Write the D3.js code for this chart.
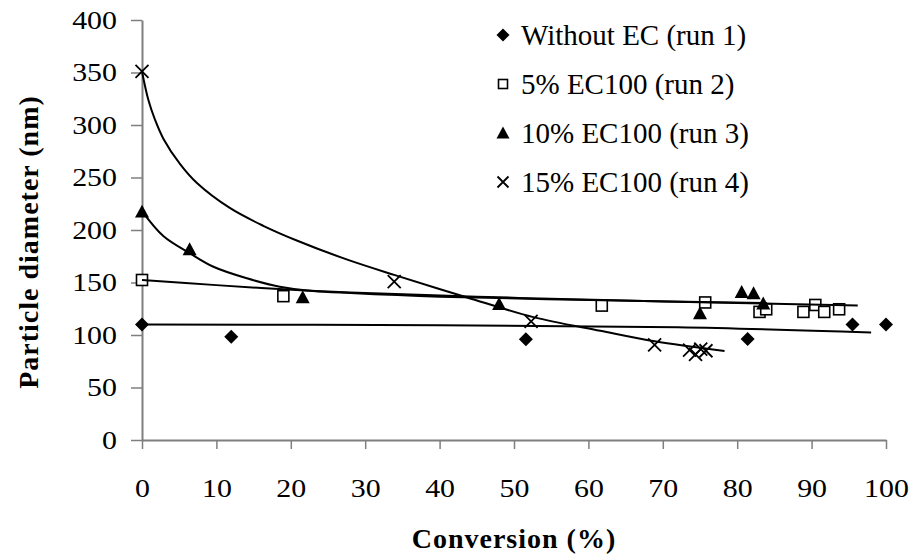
<!DOCTYPE html>
<html>
<head>
<meta charset="utf-8">
<script src="https://cdn.jsdelivr.net/npm/d3@7"></script>
<style>
  html, body { margin: 0; padding: 0; background: #fff; }
  svg { display: block; }
  text { font-family: "Liberation Serif", "Times New Roman", Tinos, "DejaVu Serif", "Noto Serif", serif; fill: #000; }
</style>
</head>
<body>
<svg id="chart" width="914" height="556"></svg>
<script>
// ---------------- data ----------------
const seriesNames = ["Without EC (run 1)", "5% EC100 (run 2)", "10% EC100 (run 3)", "15% EC100 (run 4)"];

const run1X = [0, 12, 51.6, 81.4, 95.5, 100];
const run1Y = [110, 98.4, 96, 96.2, 110, 110];

const run2X = [0, 19, 61.8, 75.7, 83, 83.9, 88.9, 90.5, 91.7, 93.7];
const run2Y = [152.4, 137, 128, 131, 122, 124.5, 122, 128.6, 122, 124.5];

const run3X = [0, 6.4, 21.6, 48, 75, 80.6, 82.2, 83.5];
const run3Y = [217.5, 181.6, 136, 129.5, 120.6, 141, 139.7, 130];

const run4X = [0, 33.9, 52.3, 68.9, 73.6, 74.4, 75.1, 75.8];
const run4Y = [351, 150.8, 113, 90.5, 85.5, 81.5, 86.5, 85];

// trend lines
const trend1X = [0, 40, 72, 98];
const trend1Y = [110, 109.3, 107.3, 102.3];

const trend2X = [0, 10, 19, 28, 45, 62, 80, 96.2];
const trend2Y = [152.4, 147.5, 143.5, 140.5, 136.5, 133.3, 130.5, 128];

const trend3X = [0, 2.9, 6.4, 9.6, 14.1, 18.5, 23, 28, 40, 62, 84];
const trend3Y = [218, 194, 178, 165, 154, 146, 142, 140, 136.5, 133, 130.5];

const trend4X = [0, 0.85, 1.75, 2.87, 5.1, 7.35, 11.8, 16.3, 20.8, 27.5, 34, 43.6, 52.6, 61.6, 68.9, 78.3];
const trend4Y = [351, 324, 305, 287, 263, 245, 221, 204, 190, 172, 157, 136, 117, 104, 94, 84.8];

const xTicks = [0, 10, 20, 30, 40, 50, 60, 70, 80, 90, 100];
const yTicks = [0, 50, 100, 150, 200, 250, 300, 350, 400];

const xTitle = "Conversion (%)";
const yTitle = "Particle diameter (nm)";

// ---------------- chart ----------------
const FONT = '"Liberation Serif", "Times New Roman", Tinos, "DejaVu Serif", "Noto Serif", serif';
const svg = d3.select("#chart");
const x = d3.scaleLinear().domain([0, 100]).range([142, 886]);
const y = d3.scaleLinear().domain([0, 400]).range([440, 20]);
const axisColor = "#7f7f7f";

// axes
const gx = svg.append("g").attr("transform", `translate(0,${y(0)})`)
  .call(d3.axisBottom(x).tickValues(xTicks).tickSize(9).tickSizeOuter(0).tickFormat(d3.format("d")));
const gy = svg.append("g").attr("transform", `translate(${x(0)},0)`)
  .call(d3.axisLeft(y).tickValues(yTicks).tickSize(11).tickSizeOuter(0).tickFormat(d3.format("d")));

[gx, gy].forEach(g => {
  g.attr("font-family", FONT);
  g.select(".domain").attr("stroke", axisColor).attr("stroke-width", 2);
  g.selectAll(".tick line").attr("stroke", axisColor).attr("stroke-width", 1.5);
  g.selectAll(".tick text").attr("font-size", 26).attr("fill", "#000").style("font-family", FONT);
});
gx.selectAll(".tick text").attr("y", null).attr("dy", null)
  .attr("text-anchor", "middle").attr("transform", "translate(0,57) scale(1.15,1)");
gy.selectAll(".tick text").attr("x", null)
  .attr("text-anchor", "end").attr("transform", "translate(-25,0) scale(1.15,1)");

// titles
svg.append("text").attr("x", 514).attr("y", 548).attr("text-anchor", "middle")
  .attr("font-size", 28).attr("font-weight", "bold").attr("letter-spacing", 1)
  .style("font-family", FONT).text(xTitle);
svg.append("text").attr("transform", "translate(38,242) rotate(-90)").attr("text-anchor", "middle")
  .attr("font-size", 28).attr("font-weight", "bold").attr("letter-spacing", 1)
  .style("font-family", FONT).text(yTitle);

// marker shapes
function drawMarker(g, type, cx, cy, s) {
  if (type === 0) {
    g.append("path").attr("d", `M${cx},${cy - s}L${cx + s},${cy}L${cx},${cy + s}L${cx - s},${cy}Z`).attr("fill", "#000");
  } else if (type === 1) {
    g.append("rect").attr("x", cx - s).attr("y", cy - s).attr("width", 2 * s).attr("height", 2 * s)
      .attr("fill", "#fff").attr("stroke", "#000").attr("stroke-width", 1.6);
  } else if (type === 2) {
    g.append("path").attr("d", `M${cx},${cy - s}L${cx + s},${cy + s * 0.85}L${cx - s},${cy + s * 0.85}Z`).attr("fill", "#000");
  } else {
    g.append("path").attr("d", `M${cx - s},${cy - s}L${cx + s},${cy + s}M${cx - s},${cy + s}L${cx + s},${cy - s}`)
      .attr("stroke", "#000").attr("stroke-width", 1.8).attr("fill", "none");
  }
}

const seriesX = [run1X, run2X, run3X, run4X];
const seriesY = [run1Y, run2Y, run3Y, run4Y];
const markerSize = [7, 5.5, 7, 6.5];
const gm = svg.append("g");
seriesX.forEach((xs, i) => {
  xs.forEach((v, j) => drawMarker(gm, i, x(v), y(seriesY[i][j]), markerSize[i]));
});

// trend lines on top
const trendX = [trend1X, trend2X, trend3X, trend4X];
const trendY = [trend1Y, trend2Y, trend3Y, trend4Y];
const line = d3.line().x(d => x(d[0])).y(d => y(d[1])).curve(d3.curveCatmullRom.alpha(0.5));
trendX.forEach((xs, i) => {
  const pts = xs.map((v, j) => [v, trendY[i][j]]);
  svg.append("path").attr("d", line(pts)).attr("fill", "none")
    .attr("stroke", "#000").attr("stroke-width", 2);
});

// legend
const lg = svg.append("g");
const legMarker = [6.5, 4.5, 6.5, 5.5];
seriesNames.forEach((name, i) => {
  const base = 45 + i * 49;
  drawMarker(lg, i, 503, base - 10, legMarker[i]);
  lg.append("text").attr("x", 521).attr("y", base).attr("font-size", 29)
    .style("font-family", FONT).text(name);
});
</script>
</body>
</html>
